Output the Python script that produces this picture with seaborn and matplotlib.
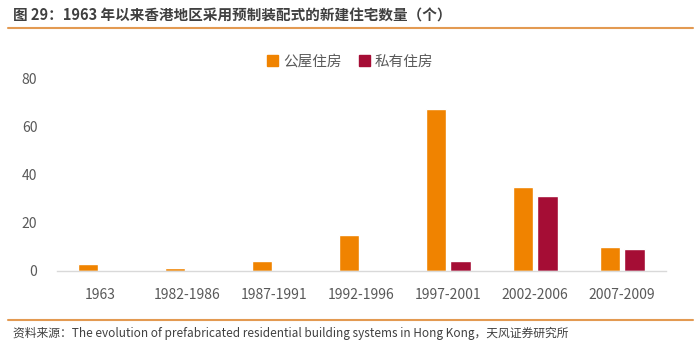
import numpy as np
import pandas as pd
import matplotlib
matplotlib.use('Agg')
import matplotlib.pyplot as plt
import seaborn as sns
from matplotlib.lines import Line2D

# 数据
periods = ["1963", "1982-1986", "1987-1991", "1992-1996", "1997-2001", "2002-2006", "2007-2009"]
public_housing = [3, 1, 4, 15, 67, 35, 10]
private_housing = [0, 0, 0, 0, 4, 31, 9]
series_names = ["公屋住房", "私有住房"]

TITLE = "图 29：1963 年以来香港地区采用预制装配式的新建住宅数量（个）"
SOURCE = "资料来源：The evolution of prefabricated residential building systems in Hong Kong，天风证券研究所"

ORANGE = "#F08300"
CRIMSON = "#A50D35"
GREY = "#595959"
LINE = "#E39A52"

sns.set_style("white")
plt.rcParams['font.family'] = ['Noto Sans CJK SC', 'DejaVu Sans']

df = pd.DataFrame({
    "period": periods * 2,
    "value": public_housing + private_housing,
    "type": [series_names[0]] * len(periods) + [series_names[1]] * len(periods),
})

fig = plt.figure(figsize=(7, 3.5), dpi=100)
fig.patch.set_facecolor('white')
ax = fig.add_axes([0.081, 0.226, 0.870, 0.551])

sns.barplot(data=df, x="period", y="value", hue="type", order=periods,
            hue_order=series_names, palette=[ORANGE, CRIMSON],
            width=0.56, gap=0.15, saturation=1, ax=ax, legend=False)

ax.set_ylim(0, 80)
ax.set_xlim(-0.5, len(periods) - 0.5)
ax.set_yticks([0, 20, 40, 60, 80])
ax.set_xlabel("")
ax.set_ylabel("")
for s in ["top", "right", "left"]:
    ax.spines[s].set_visible(False)
ax.spines["bottom"].set_color("#D9D9D9")
ax.spines["bottom"].set_linewidth(1.0)
ax.tick_params(axis='both', length=0, labelsize=10, colors=GREY)
ax.tick_params(axis='x', pad=12)
ax.tick_params(axis='y', pad=14)

# 图例
handles = [plt.Rectangle((0, 0), 1, 1, color=c) for c in [ORANGE, CRIMSON]]
fig.legend(handles, series_names, loc='center', bbox_to_anchor=(0.5, 0.823), ncol=2,
           frameon=False, fontsize=10.5, handlelength=0.8, handleheight=0.8,
           handletextpad=0.3, columnspacing=1.2, labelcolor=GREY)

# 标题与来源
fig.text(0.018, 0.955, TITLE, fontsize=10.5, fontweight='bold', color="#404040",
         ha='left', va='center')
fig.add_artist(Line2D([0.012, 0.99], [0.92, 0.92], color=LINE, linewidth=1.5))
fig.add_artist(Line2D([0.012, 0.99], [0.085, 0.085], color=LINE, linewidth=1.5))
fig.text(0.018, 0.048, SOURCE, fontsize=8.5, color="#404040", ha='left', va='center')

plt.savefig("out.png", dpi=100)
plt.close()
